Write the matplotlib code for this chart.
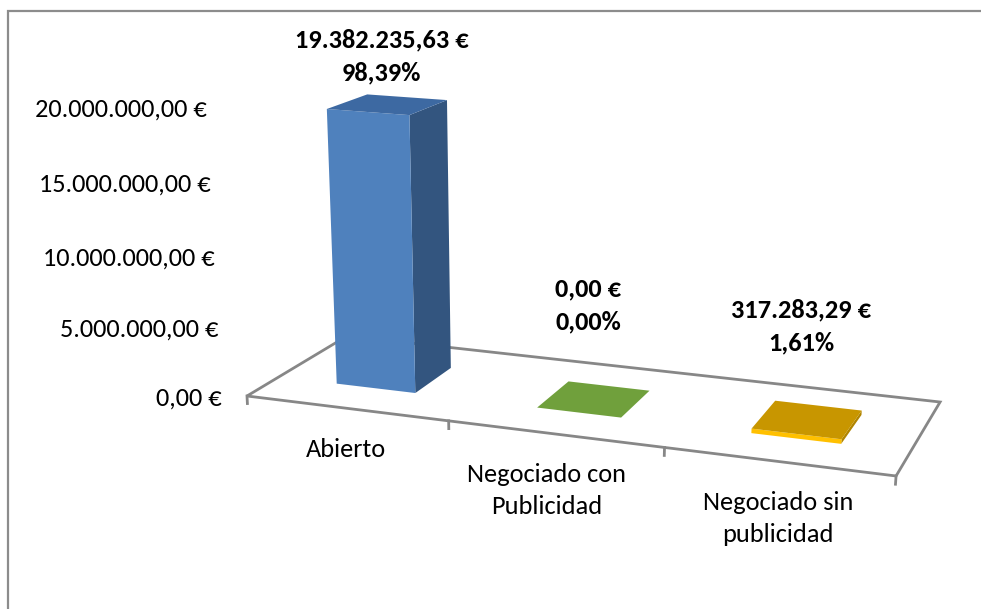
import numpy as np
import matplotlib
matplotlib.use("Agg")
import matplotlib.pyplot as plt
from matplotlib.patches import Polygon
from matplotlib import font_manager

# ---------------- data ----------------
categories = ["Abierto", "Negociado con\nPublicidad", "Negociado sin\npublicidad"]
values = [19382235.63, 0.00, 317283.29]
ytick_values = [0, 5000000, 10000000, 15000000, 20000000]

# ---------------- style ----------------
front_colors = ["#4F81BD", "#8DB255", "#FFC000"]
side_colors = ["#33557F", "#5F8030", "#B08400"]
top_colors = ["#3D69A2", "#70A03C", "#C89600"]
floor_color = "#878787"
frame_color = "#8C8C8C"

available = {f.name for f in font_manager.fontManager.ttflist}
family = [f for f in ["Carlito", "Lato", "Open Sans", "DejaVu Sans"] if f in available]
plt.rcParams["font.family"] = family

W, H = 981, 609
fig = plt.figure(figsize=(W / 100, H / 100), dpi=100)
ax = fig.add_axes([0, 0, 1, 1])
ax.set_xlim(0, W)
ax.set_ylim(H, 0)
ax.axis("off")

# camera (perspective) : world X = category units, Y = value (millions), Z = depth 0..1
CAM = np.array([
    [560.8 / 3, -1.37, 135.3, 247.0],
    [33.1 / 3, -14.746, -25.8, 396.0],
    [-0.0985 / 3, -0.0026, 0.1017, 1.0],
])


def proj(X, Y, Z):
    p = CAM @ np.array([X, Y / 1e6, Z, 1.0])
    return p[0] / p[2], p[1] / p[2]


def fmt_eur(v):
    s = f"{v:,.2f}"
    s = s.replace(",", "X").replace(".", ",").replace("X", ".")
    return s + " \u20ac"


def fmt_pct(p):
    return f"{p * 100:.2f}".replace(".", ",") + "%"


n = len(categories)
FS = 19
LINE = 32

# frame of chart area
ax.plot([8, 8, W + 5], [H + 5, 11, 11], color=frame_color, lw=1.6,
        solid_joinstyle="miter", clip_on=False)

# floor
corners = [proj(0, 0, 0), proj(n, 0, 0), proj(n, 0, 1), proj(0, 0, 1)]
ax.add_patch(Polygon(corners, closed=True, fill=False, edgecolor=floor_color,
                     lw=2.0, joinstyle="miter", zorder=1))
for i in range(n + 1):
    a = proj(i, 0, 0)
    b = proj(i, -0.55e6, 0)
    ax.plot([a[0], b[0]], [a[1], b[1]], color=floor_color, lw=2.0, zorder=1)

# value axis labels
for v in ytick_values:
    u, vv = proj(0, v, 0)
    ax.text(u - 25, vv + 2.5, fmt_eur(v), ha="right", va="center", fontsize=FS,
            color="black")

# bars
total = sum(values)
for i, val in enumerate(values):
    x0, x1, z0, z1 = i + 0.3, i + 0.7, 0.3, 0.7
    side = [proj(x1, 0, z0), proj(x1, 0, z1), proj(x1, val, z1), proj(x1, val, z0)]
    front = [proj(x0, 0, z0), proj(x1, 0, z0), proj(x1, val, z0), proj(x0, val, z0)]
    top = [proj(x0, val, z0), proj(x1, val, z0), proj(x1, val, z1), proj(x0, val, z1)]
    if val > 0:
        ax.add_patch(Polygon(side, closed=True, facecolor=side_colors[i], lw=0, zorder=3))
        ax.add_patch(Polygon(front, closed=True, facecolor=front_colors[i], lw=0, zorder=3))
    ax.add_patch(Polygon(top, closed=True, facecolor=top_colors[i], lw=0, zorder=3))

    # data labels
    cu, cv = proj(i + 0.5, val, 0.5)
    y2 = max(cv - 77, 73)
    ax.text(cu - 6, y2 - 33, fmt_eur(val), ha="center", va="center", fontsize=FS,
            fontweight="bold", color="black", zorder=5)
    ax.text(cu - 6, y2, fmt_pct(val / total), ha="center", va="center", fontsize=FS,
            fontweight="bold", color="black", zorder=5)

# category labels
cat_dx = [0, -8, 0]
for i, c in enumerate(categories):
    u, vv = proj(i + 0.5, 0, 0)
    for j, line in enumerate(c.split("\n")):
        ax.text(u + cat_dx[i], vv + 41 + j * LINE, line, ha="center", va="center",
                fontsize=FS, color="black")

fig.savefig("out.png", dpi=100)
